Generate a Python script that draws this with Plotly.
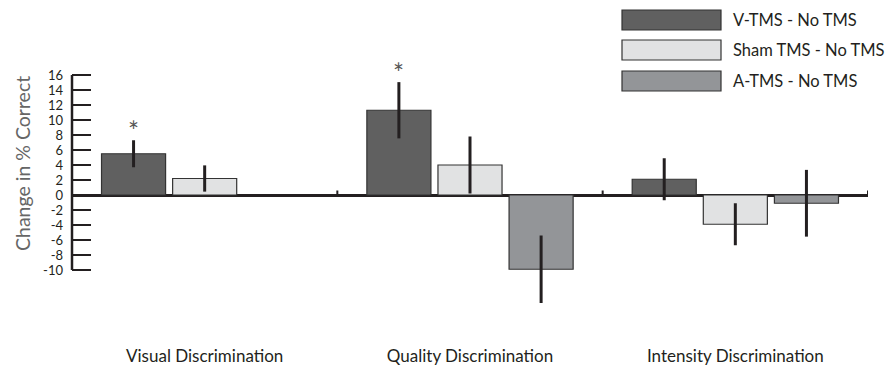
import plotly.graph_objects as go

categories = ["Visual Discrimination", "Quality Discrimination", "Intensity Discrimination"]
series_names = ["V-TMS - No TMS", "Sham TMS - No TMS", "A-TMS - No TMS"]
v_tms = [5.5, 11.3, 2.1]
v_tms_err = [1.8, 3.75, 2.8]
sham_tms = [2.2, 4.0, -3.9]
sham_tms_err = [1.75, 3.8, 2.8]
a_tms = [None, -9.9, -1.1]
a_tms_err = [None, 4.5, 4.45]
significant = [(0, 0), (0, 1)]  # (series index, category index)
y_ticks = list(range(-10, 17, 2))

values = [v_tms, sham_tms, a_tms]
errors = [v_tms_err, sham_tms_err, a_tms_err]
colors = ["#606060", "#e1e2e3", "#939598"]

# layout geometry (pixels)
W, H = 895, 368
L, R, T, B = 72, 868, 60, 342
y_range = [-19.6, 18]
bargap = 0.196
bargroupgap = 0.099

def px(xp):
    return (xp - L) / (R - L)

def py(yp):
    return (B - yp) / (B - T)

xs = list(range(len(categories)))
fig = go.Figure()
for i, name in enumerate(series_names):
    fig.add_trace(go.Bar(
        x=xs, y=values[i], name=name,
        marker=dict(color=colors[i], line=dict(color="#333333", width=1.2)),
        error_y=dict(type="data", array=errors[i], visible=True,
                     thickness=3, width=0, color="#231f20"),
        showlegend=False,
    ))

# asterisks
pitch = (1 - bargap) / len(series_names)
for s, g in significant:
    off = (s - (len(series_names) - 1) / 2) * pitch
    fig.add_annotation(x=g + off, y=values[s][g] + errors[s][g], text="*",
                       showarrow=False, yanchor="bottom", yshift=-9,
                       font=dict(family="Lato", size=26, color="#555555"))

shapes = []
# y-axis line from lowest to highest tick
shapes.append(dict(type="line", xref="paper", yref="y", x0=0, x1=0,
                   y0=min(y_ticks), y1=max(y_ticks),
                   line=dict(color="#231f20", width=2.5)))
# group separator ticks on zero line
for k in range(1, len(categories) + 1):
    shapes.append(dict(type="line", xref="x", yref="y", x0=k - 0.5, x1=k - 0.5,
                       y0=0, y1=0.6, line=dict(color="#231f20", width=2)))

# manual legend
box_tops = [10, 40, 71]
for i, name in enumerate(series_names):
    t = box_tops[i]
    shapes.append(dict(type="rect", xref="paper", yref="paper",
                       x0=px(622), x1=px(721), y0=py(t + 20), y1=py(t),
                       fillcolor=colors[i], line=dict(color="#333333", width=1.2)))
    fig.add_annotation(xref="paper", yref="paper", x=px(731), y=py(t + 10),
                       text=name, showarrow=False, xanchor="left", yanchor="middle",
                       font=dict(family="Lato", size=16.5, color="#231f20"))

# y-axis title
fig.add_annotation(xref="paper", yref="paper", x=px(22), y=py(164),
                   text="Change in % Correct", textangle=-90, showarrow=False,
                   xanchor="center", yanchor="middle",
                   font=dict(family="Lato", size=19.5, color="#666666"))

fig.update_layout(
    width=W, height=H,
    margin=dict(l=L, r=W - R, t=T, b=H - B, autoexpand=False),
    paper_bgcolor="white", plot_bgcolor="white",
    barmode="group", bargap=bargap, bargroupgap=bargroupgap,
    shapes=shapes,
    font=dict(family="Lato", size=15, color="#231f20"),
    xaxis=dict(range=[-0.5, len(categories) - 0.5], tickvals=xs, ticktext=categories,
               showgrid=False, zeroline=False, showline=False, ticks="",
               automargin=False, ticklabelstandoff=2,
               tickfont=dict(family="Lato", size=17, color="#231f20")),
    yaxis=dict(range=y_range, tickvals=y_ticks, ticktext=[str(v) for v in y_ticks],
               showgrid=False, showline=False, zeroline=True, automargin=False,
               zerolinecolor="#231f20", zerolinewidth=2.5,
               ticks="inside", ticklen=19, tickwidth=2, tickcolor="#231f20",
               ticklabelstandoff=8,
               tickfont=dict(family="Lato", size=13, color="#231f20")),
)

fig.write_html("out.html", config={"displayModeBar": False},
               post_script="document.body.style.margin='0';document.body.style.overflow='hidden';")
